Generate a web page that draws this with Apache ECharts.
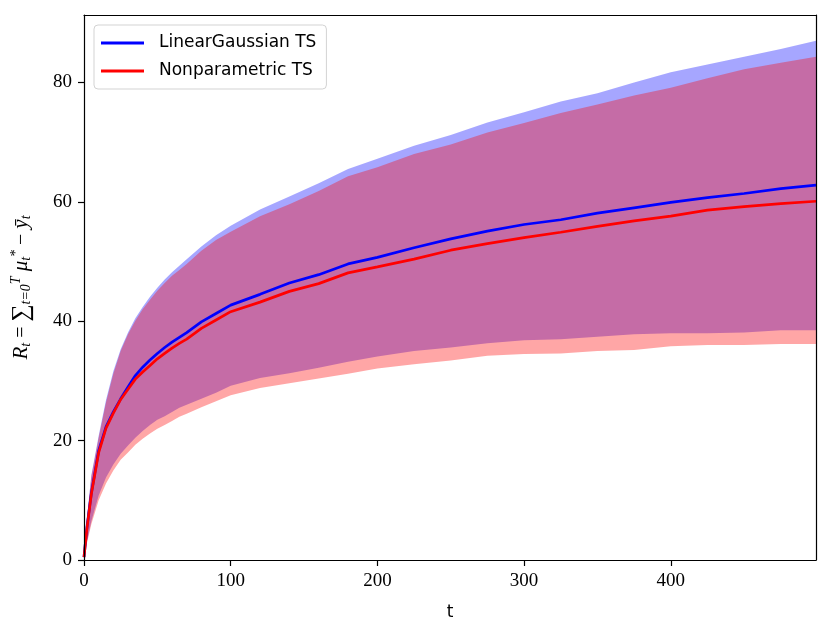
<!DOCTYPE html>
<html>
<head>
<meta charset="utf-8">
<script src="https://cdn.jsdelivr.net/npm/echarts@6/dist/echarts.min.js"></script>
<style>
  html, body { margin: 0; padding: 0; background: #fff; }
  #chart { width: 831px; height: 634px; }
</style>
</head>
<body>
<div id="chart"></div>
<script>
// Sample times t
const tValues = [0, 2, 5, 10, 15, 20, 25, 30, 35, 40, 45, 50, 55, 60, 65, 70, 80, 90, 100, 120, 140, 160, 180, 200, 225, 250, 275, 300, 325, 350, 375, 400, 425, 450, 475, 499];
// LinearGaussian TS
const blueMean  = [0.5, 5.5, 11.2, 18.3, 22.3, 24.8, 27.0, 29.0, 30.9, 32.3, 33.5, 34.6, 35.6, 36.5, 37.3, 38.1, 39.9, 41.3, 42.7, 44.5, 46.4, 47.8, 49.6, 50.7, 52.3, 53.8, 55.1, 56.2, 57.0, 58.1, 59.0, 59.9, 60.7, 61.4, 62.2, 62.8];
const blueUpper = [0.5, 7.0, 14.2, 20.8, 26.8, 31.6, 35.3, 38.1, 40.5, 42.4, 44.1, 45.6, 47.0, 48.2, 49.3, 50.4, 52.5, 54.4, 56.0, 58.7, 60.9, 63.1, 65.5, 67.2, 69.4, 71.2, 73.3, 75.0, 76.8, 78.2, 80.0, 81.7, 83.0, 84.3, 85.6, 87.0];
const blueLower = [0.5, 3.0, 6.5, 10.8, 13.8, 16.0, 17.8, 19.2, 20.5, 21.6, 22.6, 23.5, 24.1, 24.8, 25.5, 26.0, 27.0, 28.0, 29.2, 30.5, 31.3, 32.2, 33.2, 34.1, 35.0, 35.6, 36.3, 36.8, 37.0, 37.4, 37.8, 38.0, 38.0, 38.1, 38.5, 38.5];
// Nonparametric TS
const redMean  = [0.5, 5.3, 11.0, 18.0, 22.1, 24.6, 26.9, 28.6, 30.3, 31.5, 32.6, 33.7, 34.6, 35.5, 36.3, 37.0, 38.8, 40.2, 41.6, 43.2, 45.0, 46.3, 48.1, 49.1, 50.4, 51.9, 53.0, 54.0, 54.9, 55.9, 56.8, 57.6, 58.6, 59.2, 59.7, 60.1];
const redUpper = [0.5, 6.8, 14.0, 20.5, 26.4, 31.2, 35.0, 37.8, 40.1, 42.0, 43.6, 45.1, 46.4, 47.6, 48.6, 49.6, 51.8, 53.6, 55.0, 57.6, 59.6, 61.8, 64.3, 65.8, 68.0, 69.6, 71.6, 73.2, 74.9, 76.3, 77.8, 79.1, 80.7, 82.2, 83.3, 84.3];
const redLower = [0.5, 2.8, 6.0, 10.0, 12.8, 15.0, 16.8, 18.0, 19.3, 20.3, 21.2, 22.0, 22.6, 23.3, 24.0, 24.5, 25.6, 26.6, 27.6, 28.8, 29.6, 30.4, 31.2, 32.1, 32.8, 33.4, 34.2, 34.5, 34.6, 35.0, 35.2, 35.8, 36.0, 36.0, 36.2, 36.2];
// Axis ticks
const xTicks = [0, 100, 200, 300, 400];
const yTicks = [0, 20, 40, 60, 80];
const seriesNames = ['LinearGaussian TS', 'Nonparametric TS'];

function zip(xs, ys) { return xs.map((x, i) => [x, ys[i]]); }

function bandSeries(upper, lower, fill) {
  return {
    type: 'custom',
    clip: true,
    silent: true,
    z: 1,
    data: [[0, 0]],
    renderItem: function (params, api) {
      if (params.dataIndex !== 0) return null;
      const pts = [];
      for (let i = 0; i < tValues.length; i++) pts.push(api.coord([tValues[i], upper[i]]));
      for (let i = tValues.length - 1; i >= 0; i--) pts.push(api.coord([tValues[i], lower[i]]));
      return { type: 'polygon', shape: { points: pts }, style: { fill: fill, stroke: null } };
    }
  };
}

const chart = echarts.init(document.getElementById('chart'), null, { renderer: 'canvas' });
const serif = 'Liberation Serif';
const option = {
  animation: false,
  backgroundColor: '#ffffff',
  grid: { left: 84, right: 15, top: 15, bottom: 74, containLabel: false },
  legend: {
    orient: 'vertical',
    left: 94, top: 25,
    data: seriesNames,
    icon: 'rect',
    itemWidth: 43, itemHeight: 3,
    itemGap: 8,
    padding: [8, 10, 8, 7],
    backgroundColor: 'rgba(255,255,255,0.8)',
    borderColor: '#d3d3d3', borderWidth: 1, borderRadius: 4,
    textStyle: { fontFamily: 'DejaVu Sans', fontSize: 17, color: '#000', lineHeight: 20, padding: [0, 0, 0, 10] }
  },
  xAxis: [{
    type: 'value', min: 0, max: 499, interval: 100,
    name: 't', nameLocation: 'middle', nameGap: 44,
    nameTextStyle: { fontFamily: 'DejaVu Sans', fontSize: 17, color: '#000' },
    axisLine: { show: true, onZero: false, lineStyle: { color: '#000', width: 1.2 } },
    axisTick: { show: true, length: 6, lineStyle: { color: '#000', width: 1.2 } },
    axisLabel: { fontFamily: serif, fontSize: 19, color: '#000', margin: 12, showMaxLabel: false,
      formatter: v => xTicks.includes(v) ? String(v) : '' },
    splitLine: { show: false }, z: 10
  }, {
    type: 'value', min: 0, max: 499, position: 'top',
    axisLine: { show: true, onZero: false, lineStyle: { color: '#000', width: 1.2 } },
    axisTick: { show: false }, axisLabel: { show: false }, splitLine: { show: false }, z: 10
  }],
  yAxis: [{
    type: 'value', min: 0, max: 91.3, interval: 20,
    name: '{i|R}{s|t} = {n|∑}{s|t=0}{sp|T} {i|μ}{s|t}{sp|*} − {i|ȳ}{s|t}',
    nameLocation: 'middle', nameGap: 50, nameRotate: 90,
    nameTextStyle: {
      fontFamily: serif, fontSize: 20, color: '#000',
      rich: {
        i: { fontFamily: serif, fontStyle: 'italic', fontSize: 21 },
        n: { fontFamily: serif, fontSize: 24 },
        s: { fontFamily: serif, fontStyle: 'italic', fontSize: 14, padding: [9, 0, 0, 0] },
        sp: { fontFamily: serif, fontStyle: 'italic', fontSize: 14, padding: [0, 0, 11, 0] }
      }
    },
    axisLine: { show: true, onZero: false, lineStyle: { color: '#000', width: 1.2 } },
    axisTick: { show: true, length: 6, lineStyle: { color: '#000', width: 1.2 } },
    axisLabel: { fontFamily: serif, fontSize: 19, color: '#000', margin: 12, showMaxLabel: false,
      formatter: v => yTicks.includes(v) ? String(v) : '' },
    splitLine: { show: false }, z: 10
  }, {
    type: 'value', min: 0, max: 91.3, position: 'right',
    axisLine: { show: true, onZero: false, lineStyle: { color: '#000', width: 1.2 } },
    axisTick: { show: false }, axisLabel: { show: false }, splitLine: { show: false }, z: 10
  }],
  series: [
    bandSeries(blueUpper, blueLower, 'rgba(0,0,255,0.35)'),
    bandSeries(redUpper, redLower, 'rgba(255,0,0,0.35)'),
    {
      name: seriesNames[0], type: 'line', data: zip(tValues, blueMean),
      showSymbol: false, symbol: 'none', z: 3, clip: true,
      itemStyle: { color: '#0000ff' },
      lineStyle: { color: '#0000ff', width: 2.7 }
    },
    {
      name: seriesNames[1], type: 'line', data: zip(tValues, redMean),
      showSymbol: false, symbol: 'none', z: 4, clip: true,
      itemStyle: { color: '#ff0000' },
      lineStyle: { color: '#ff0000', width: 2.7 }
    }
  ]
};
chart.setOption(option);
</script>
</body>
</html>
